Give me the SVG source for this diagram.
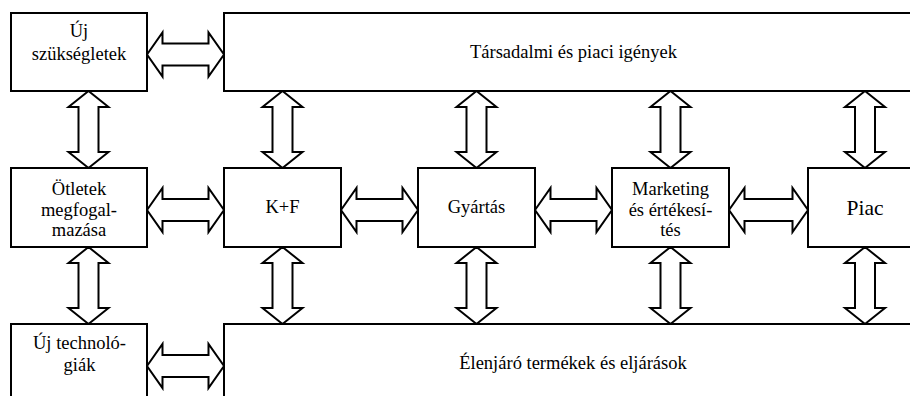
<svg xmlns="http://www.w3.org/2000/svg" width="910" height="396" viewBox="0 0 910 396">
<style>
.box{fill:#fff;stroke:#000;stroke-width:2}
.arr{fill:#fff;stroke:#000;stroke-width:2;stroke-linejoin:miter}
.t{font-size:18.5px;fill:#000;text-anchor:middle}
.big{font-size:21.5px}
</style>
<rect width="910" height="396" fill="#fff"/>
<g id="connectors">
  <polygon class="arr" points="147,54.5 162.5,32.5 162.5,43.5 208.5,43.5 208.5,32.5 224,54.5 208.5,76.5 208.5,65.5 162.5,65.5 162.5,76.5"/>
  <polygon class="arr" points="147,210 162.5,188 162.5,199 208.5,199 208.5,188 224,210 208.5,232 208.5,221 162.5,221 162.5,232"/>
  <polygon class="arr" points="341,210 356.5,188 356.5,199 402.5,199 402.5,188 418,210 402.5,232 402.5,221 356.5,221 356.5,232"/>
  <polygon class="arr" points="535,210 550.5,188 550.5,199 596.5,199 596.5,188 612,210 596.5,232 596.5,221 550.5,221 550.5,232"/>
  <polygon class="arr" points="729,210 744.5,188 744.5,199 792.5,199 792.5,188 808,210 792.5,232 792.5,221 744.5,221 744.5,232"/>
  <polygon class="arr" points="147,366 162.5,344 162.5,355 208.5,355 208.5,344 224,366 208.5,388 208.5,377 162.5,377 162.5,388"/>
  <polygon class="arr" points="88.5,91 108.5,107 98.5,107 98.5,152 108.5,152 88.5,168 68.5,152 78.5,152 78.5,107 68.5,107"/>
  <polygon class="arr" points="282.5,91 302.5,107 292.5,107 292.5,152 302.5,152 282.5,168 262.5,152 272.5,152 272.5,107 262.5,107"/>
  <polygon class="arr" points="476.5,91 496.5,107 486.5,107 486.5,152 496.5,152 476.5,168 456.5,152 466.5,152 466.5,107 456.5,107"/>
  <polygon class="arr" points="670.5,91 690.5,107 680.5,107 680.5,152 690.5,152 670.5,168 650.5,152 660.5,152 660.5,107 650.5,107"/>
  <polygon class="arr" points="865,91 885,107 875,107 875,152 885,152 865,168 845,152 855,152 855,107 845,107"/>
  <polygon class="arr" points="88.5,247 108.5,263 98.5,263 98.5,308 108.5,308 88.5,324 68.5,308 78.5,308 78.5,263 68.5,263"/>
  <polygon class="arr" points="282.5,247 302.5,263 292.5,263 292.5,308 302.5,308 282.5,324 262.5,308 272.5,308 272.5,263 262.5,263"/>
  <polygon class="arr" points="476.5,247 496.5,263 486.5,263 486.5,308 496.5,308 476.5,324 456.5,308 466.5,308 466.5,263 456.5,263"/>
  <polygon class="arr" points="670.5,247 690.5,263 680.5,263 680.5,308 690.5,308 670.5,324 650.5,308 660.5,308 660.5,263 650.5,263"/>
  <polygon class="arr" points="865,247 885,263 875,263 875,308 885,308 865,324 845,308 855,308 855,263 845,263"/>
</g>
<g id="uj-szuksegletek" font-family="Liberation Serif, serif">
  <rect class="box" x="11" y="13" width="136" height="78"/>
  <text class="t" font-family="Liberation Serif, serif" x="79" y="37">Új<tspan x="79" y="60">szükségletek</tspan></text>
</g>
<g id="tarsadalmi" font-family="Liberation Serif, serif">
  <rect class="box" x="224" y="13" width="698" height="78"/>
  <text class="t" font-family="Liberation Serif, serif" x="573.5" y="58">Társadalmi és piaci igények</text>
</g>
<g id="otletek" font-family="Liberation Serif, serif">
  <rect class="box" x="11" y="168" width="136" height="79"/>
  <text class="t" font-family="Liberation Serif, serif" x="79" y="195">Ötletek<tspan x="79" y="215.5">megfogal-</tspan><tspan x="79" y="236">mazása</tspan></text>
</g>
<g id="kf" font-family="Liberation Serif, serif">
  <rect class="box" x="224" y="168" width="117" height="79"/>
  <text class="t" font-family="Liberation Serif, serif" x="282.5" y="213">K+F</text>
</g>
<g id="gyartas" font-family="Liberation Serif, serif">
  <rect class="box" x="418" y="168" width="117" height="79"/>
  <text class="t" font-family="Liberation Serif, serif" x="476.5" y="213">Gyártás</text>
</g>
<g id="marketing" font-family="Liberation Serif, serif">
  <rect class="box" x="612" y="168" width="117" height="79"/>
  <text class="t" font-family="Liberation Serif, serif" x="670.5" y="195">Marketing<tspan x="670.5" y="215.5">és értékesí-</tspan><tspan x="670.5" y="236">tés</tspan></text>
</g>
<g id="piac" font-family="Liberation Serif, serif">
  <rect class="box" x="808" y="168" width="114" height="79"/>
  <text class="t big" font-family="Liberation Serif, serif" x="865" y="215">Piac</text>
</g>
<g id="uj-technologiak" font-family="Liberation Serif, serif">
  <rect class="box" x="11" y="324" width="136" height="90"/>
  <text class="t" font-family="Liberation Serif, serif" x="79.5" y="349">Új technoló-<tspan x="79.5" y="371">giák</tspan></text>
</g>
<g id="elenjaro" font-family="Liberation Serif, serif">
  <rect class="box" x="224" y="324" width="698" height="90"/>
  <text class="t" font-family="Liberation Serif, serif" x="573" y="369">Élenjáró termékek és eljárások</text>
</g>
</svg>
